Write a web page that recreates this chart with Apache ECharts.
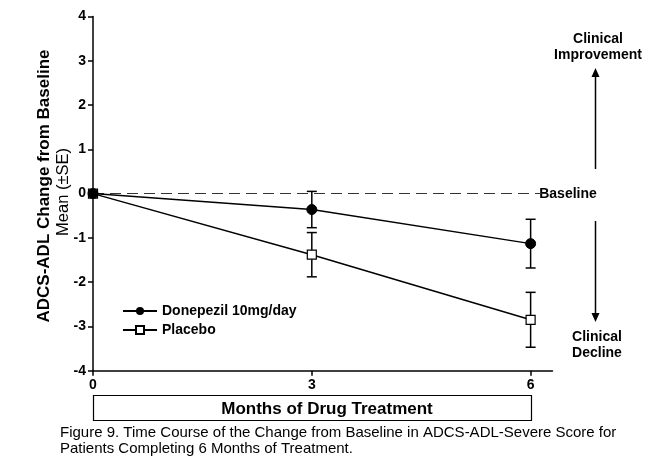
<!DOCTYPE html>
<html>
<head>
<meta charset="utf-8">
<script src="https://cdn.jsdelivr.net/npm/echarts@6/dist/echarts.min.js"></script>
<style>
html,body{margin:0;padding:0;background:#fff;}
#chart{width:661px;height:470px;}
</style>
</head>
<body>
<div id="chart"></div>
<script>
const months = [0, 3, 6];
const donepezilMean = [0, -0.36, -1.13];
const donepezilSE = [0, 0.41, 0.55];
const placeboMean = [0, -1.38, -2.85];
const placeboSE = [0, 0.50, 0.62];
const xTickLabels = [0, 3, 6];
const yTickLabels = [-4, -3, -2, -1, 0, 1, 2, 3, 4];
const seriesNames = ['Donepezil 10mg/day', 'Placebo'];

const FONT = '"Liberation Sans", Arial, sans-serif';

const chart = echarts.init(document.getElementById('chart'));

function pts(m) { return months.map((x, i) => [x, m[i]]); }
function errs(m, se) {
  return months.map((x, i) => [x, m[i] - se[i], m[i] + se[i]]).filter((d, i) => se[i] > 0);
}
function errRender(params, api) {
  const x = api.value(0);
  const lo = api.coord([x, api.value(1)]);
  const hi = api.coord([x, api.value(2)]);
  const w = 5;
  const st = { stroke: '#000', lineWidth: 1.5 };
  return {
    type: 'group',
    children: [
      { type: 'line', shape: { x1: lo[0], y1: lo[1], x2: hi[0], y2: hi[1] }, style: st },
      { type: 'line', shape: { x1: lo[0] - w, y1: lo[1], x2: lo[0] + w, y2: lo[1] }, style: st },
      { type: 'line', shape: { x1: hi[0] - w, y1: hi[1], x2: hi[0] + w, y2: hi[1] }, style: st }
    ]
  };
}

const option = {
  backgroundColor: '#fff',
  animation: false,
  grid: { left: 93, right: 108.5, top: 16.5, bottom: 99.3 },
  legend: {
    left: 117, top: 299, orient: 'vertical', itemGap: 5,
    itemWidth: 34, itemHeight: 10,
    data: seriesNames,
    textStyle: { fontFamily: FONT, fontWeight: 'bold', fontSize: 14, color: '#000' }
  },
  xAxis: {
    type: 'value', min: 0, max: 6.3, interval: 3,
    splitLine: { show: false },
    axisLine: { onZero: false, lineStyle: { color: '#000', width: 1.5 } },
    axisTick: { show: true, length: 5, customValues: xTickLabels, lineStyle: { color: '#000', width: 1.5 } },
    axisLabel: {
      customValues: xTickLabels, margin: 7,
      fontFamily: FONT, fontWeight: 'bold', fontSize: 14, color: '#000',
      formatter: v => (xTickLabels.indexOf(v) >= 0 ? String(v) : '')
    }
  },
  yAxis: {
    type: 'value', min: -4, max: 4, interval: 1,
    splitLine: { show: false },
    axisLine: { onZero: false, lineStyle: { color: '#000', width: 1.5 } },
    axisTick: { show: true, length: 5, lineStyle: { color: '#000', width: 1.5 } },
    axisLabel: { margin: 7, fontFamily: FONT, fontWeight: 'bold', fontSize: 14, color: '#000',
      formatter: v => (yTickLabels.indexOf(v) >= 0 ? String(v) : '') }
  },
  series: [
    {
      name: seriesNames[0], type: 'line', data: pts(donepezilMean),
      symbol: 'circle', symbolSize: 10,
      lineStyle: { color: '#000', width: 1.5 },
      itemStyle: { color: '#000', borderColor: '#000' },
      z: 5,
      markLine: {
        silent: true, symbol: 'none', label: { show: false },
        lineStyle: { color: '#333', type: [11, 6], width: 1 },
        data: [{ yAxis: 0 }]
      }
    },
    {
      name: seriesNames[1], type: 'line', data: pts(placeboMean),
      symbol: 'rect', symbolSize: 9,
      lineStyle: { color: '#000', width: 1.5 },
      itemStyle: { color: '#fff', borderColor: '#000', borderWidth: 1.2 },
      z: 4
    },
    { type: 'custom', renderItem: errRender, data: errs(donepezilMean, donepezilSE), z: 3, encode: { x: 0, y: [1, 2] } },
    { type: 'custom', renderItem: errRender, data: errs(placeboMean, placeboSE), z: 3, encode: { x: 0, y: [1, 2] } }
  ],
  graphic: [
    { type: 'text', x: 44, y: 186, rotation: Math.PI / 2, style: { text: 'ADCS-ADL Change from Baseline', fontFamily: FONT, fontWeight: 'bold', fontSize: 17, fill: '#000', align: 'center', verticalAlign: 'middle' } },
    { type: 'text', x: 63, y: 192, rotation: Math.PI / 2, style: { text: 'Mean (±SE)', fontFamily: FONT, fontSize: 16.5, fill: '#000', align: 'center', verticalAlign: 'middle' } },
    { type: 'rect', shape: { x: 93.5, y: 395.5, width: 438, height: 25 }, style: { fill: '#fff', stroke: '#000', lineWidth: 1.2 } },
    { type: 'text', x: 327, y: 409, style: { text: 'Months of Drug Treatment', fontFamily: FONT, fontWeight: 'bold', fontSize: 17, fill: '#000', align: 'center', verticalAlign: 'middle' } },
    { type: 'text', x: 60, y: 433, style: { text: 'Figure 9. Time Course of the Change from Baseline in ADCS-ADL-Severe Score for', fontFamily: FONT, fontSize: 15, fill: '#000', align: 'left', verticalAlign: 'middle' } },
    { type: 'text', x: 60, y: 449, style: { text: 'Patients Completing 6 Months of Treatment.', fontFamily: FONT, fontSize: 15, fill: '#000', align: 'left', verticalAlign: 'middle' } },
    { type: 'text', x: 598, y: 47, style: { text: 'Clinical\nImprovement', fontFamily: FONT, fontWeight: 'bold', fontSize: 14, lineHeight: 16, fill: '#000', align: 'center', verticalAlign: 'middle' } },
    { type: 'text', x: 568, y: 194, style: { text: 'Baseline', fontFamily: FONT, fontWeight: 'bold', fontSize: 14, fill: '#000', align: 'center', verticalAlign: 'middle' } },
    { type: 'text', x: 597, y: 345, style: { text: 'Clinical\nDecline', fontFamily: FONT, fontWeight: 'bold', fontSize: 14, lineHeight: 16, fill: '#000', align: 'center', verticalAlign: 'middle' } },
    { type: 'line', shape: { x1: 595.5, y1: 74, x2: 595.5, y2: 169 }, style: { stroke: '#000', lineWidth: 1.5 } },
    { type: 'polygon', shape: { points: [[595.5, 68], [591.5, 77], [599.5, 77]] }, style: { fill: '#000' } },
    { type: 'line', shape: { x1: 595.5, y1: 221, x2: 595.5, y2: 315 }, style: { stroke: '#000', lineWidth: 1.5 } },
    { type: 'polygon', shape: { points: [[595.5, 322], [591.5, 313], [599.5, 313]] }, style: { fill: '#000' } }
  ]
};
chart.setOption(option);
</script>
</body>
</html>
